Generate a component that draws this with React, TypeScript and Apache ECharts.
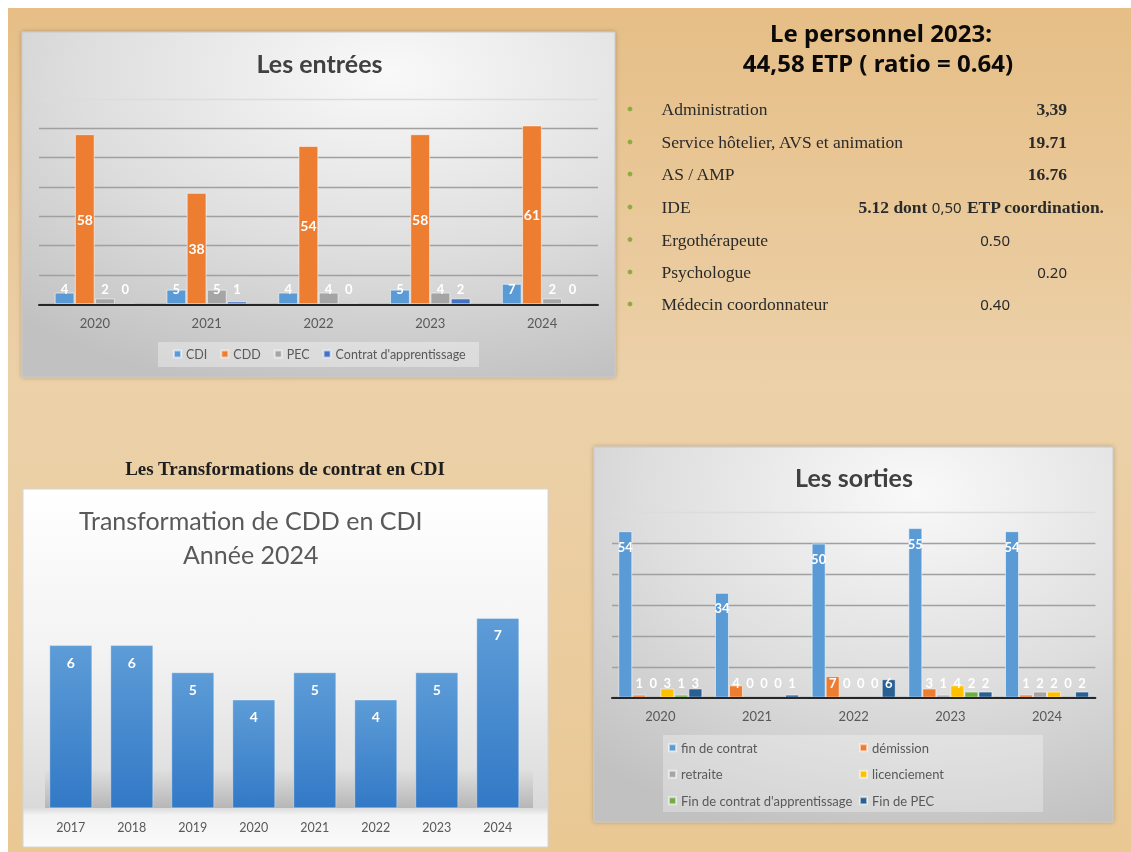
import React, { useEffect, useRef } from "react";
import * as echarts from "echarts";

// ---------- DATA ----------
const ENTREES_YEARS = ["2020", "2021", "2022", "2023", "2024"];
const ENTREES_CDI = [4, 5, 4, 5, 7];
const ENTREES_CDD = [58, 38, 54, 58, 61];
const ENTREES_PEC = [2, 5, 4, 4, 2];
const ENTREES_APPRENT = [0, 1, 0, 2, 0];

const TRANSFO_YEARS = ["2017", "2018", "2019", "2020", "2021", "2022", "2023", "2024"];
const TRANSFO_VALUES = [6, 6, 5, 4, 5, 4, 5, 7];

const SORTIES_YEARS = ["2020", "2021", "2022", "2023", "2024"];
const SORTIES_FIN_CONTRAT = [54, 34, 50, 55, 54];
const SORTIES_DEMISSION = [1, 4, 7, 3, 1];
const SORTIES_RETRAITE = [0, 0, 0, 1, 2];
const SORTIES_LICENCIEMENT = [3, 0, 0, 4, 2];
const SORTIES_FIN_APPRENT = [1, 0, 0, 2, 0];
const SORTIES_FIN_PEC = [3, 1, 6, 2, 2];

const STAFF_LABELS = [
  "Administration",
  "Service hôtelier, AVS et animation",
  "AS / AMP",
  "IDE",
  "Ergothérapeute",
  "Psychologue",
  "Médecin coordonnateur",
];
const STAFF_VALUES = ["3,39", "19.71", "16.76", "5.12 dont 0,50 ETP coordination.", "0.50", "0.20", "0.40"];

// ---------- STYLE / LAYOUT ----------
const SANS = "Lato, 'Noto Sans', sans-serif";
const SERIF = "'Liberation Serif', 'DejaVu Serif', serif";
const GEO = "'Noto Sans', 'DejaVu Sans', sans-serif";

const STAFF_ROW_Y = [109, 142, 174, 207, 239.5, 272, 304];
const STAFF_VALUE_X = [1067, 1067, 1067, 1104, 1010, 1067, 1010];
const STAFF_VALUE_SANS = [false, false, false, false, true, true, true];

function txt(text: string, x: number, y: number, s: any, z = 10) {
  return {
    type: "text",
    x,
    y,
    z,
    silent: true,
    style: {
      text,
      fill: s.fill || "#222",
      fontSize: s.fontSize || 14,
      fontWeight: s.fontWeight || "normal",
      fontFamily: s.fontFamily || SANS,
      textAlign: s.align || "left",
      align: s.align || "left",
      textVerticalAlign: "middle",
      verticalAlign: "middle",
      rich: s.rich,
    },
  };
}

const labelBase = { show: true, color: "#ffffff", fontFamily: SANS, fontWeight: "bold", fontSize: 13 };

function entreesData(arr: number[]) {
  return arr.map((v) => ({
    value: v,
    label: v >= 10 ? { ...labelBase, fontSize: 14, position: "inside" } : { ...labelBase, position: "insideBottom", distance: 9 },
  }));
}
function sortiesData(arr: number[]) {
  return arr.map((v) => ({
    value: v,
    label: v >= 10 ? { ...labelBase, position: "insideTop", distance: 9 } : { ...labelBase, position: "insideBottom", distance: 8.5 },
  }));
}

const barBorder = { borderColor: "rgba(255,255,255,0.55)", borderWidth: 1 };

function panelGradient() {
  return new echarts.graphic.RadialGradient(0.62, 0.12, 0.95, [
    { offset: 0, color: "#f9f9f9" },
    { offset: 0.55, color: "#dedede" },
    { offset: 1, color: "#c1c1c1" },
  ]);
}

export default function App() {
  const ref = useRef<HTMLDivElement>(null);

  useEffect(() => {
    if (!ref.current) return;
    const chart = echarts.init(ref.current, null, { renderer: "svg" });

    const graphics: any[] = [
      { type: "rect", z: -100, silent: true, shape: { x: 0, y: 0, width: 1131, height: 852 }, style: { fill: "#ffffff" } },
      {
        type: "rect",
        z: -99,
        silent: true,
        shape: { x: 8, y: 8, width: 1123, height: 844 },
        style: {
          fill: new echarts.graphic.LinearGradient(0, 0, 0, 1, [
            { offset: 0, color: "#e6be86" },
            { offset: 0.45, color: "#ecd1a9" },
            { offset: 1, color: "#e9c894" },
          ]),
        },
      },
      // panels
      {
        type: "rect",
        z: -90,
        silent: true,
        shape: { x: 22, y: 32, width: 593, height: 345 },
        style: { fill: panelGradient(), stroke: "#c8c8c8", lineWidth: 1, shadowBlur: 4, shadowColor: "rgba(0,0,0,0.25)" },
      },
      {
        type: "rect",
        z: -90,
        silent: true,
        shape: { x: 594, y: 447, width: 519, height: 375 },
        style: { fill: panelGradient(), stroke: "#c8c8c8", lineWidth: 1, shadowBlur: 4, shadowColor: "rgba(0,0,0,0.25)" },
      },
      {
        type: "rect",
        z: -90,
        silent: true,
        shape: { x: 23, y: 489, width: 525, height: 358 },
        style: {
          fill: new echarts.graphic.LinearGradient(0, 0, 0, 1, [
            { offset: 0, color: "#ffffff" },
            { offset: 0.45, color: "#f3f3f3" },
            { offset: 0.78, color: "#e1e1e1" },
            { offset: 0.89, color: "#d9d9d9" },
            { offset: 0.91, color: "#f3f3f3" },
            { offset: 1, color: "#fbfbfb" },
          ]),
          stroke: "#d4d4d4",
          lineWidth: 1,
        },
      },
      // legend boxes
      {
        type: "rect",
        z: -80,
        silent: true,
        shape: { x: 158, y: 342, width: 321, height: 25 },
        style: { fill: "rgba(255,255,255,0.35)" },
      },
      {
        type: "rect",
        z: -80,
        silent: true,
        shape: { x: 663, y: 735, width: 380, height: 77 },
        style: { fill: "rgba(255,255,255,0.3)" },
      },
      // bar base shadow band (transformation chart)
      {
        type: "rect",
        z: -85,
        silent: true,
        shape: { x: 45, y: 768, width: 488, height: 40 },
        style: {
          fill: new echarts.graphic.LinearGradient(0, 0, 0, 1, [
            { offset: 0, color: "rgba(0,0,0,0)" },
            { offset: 1, color: "rgba(0,0,0,0.16)" },
          ]),
        },
      },
      // titles
      txt("Les entrées", 319.5, 63, { fontSize: 25, fontWeight: "bold", fill: "#404040", align: "center" }),
      txt("Les sorties", 854, 477, { fontSize: 25, fontWeight: "bold", fill: "#404040", align: "center" }),
      txt("Transformation de CDD en CDI", 250.7, 520, { fontSize: 25, fill: "#595959", align: "center" }),
      txt("Année 2024", 250.7, 554, { fontSize: 25, fill: "#595959", align: "center" }),
      txt("Les Transformations de contrat en CDI", 285, 468, {
        fontSize: 19,
        fontWeight: "bold",
        fontFamily: SERIF,
        fill: "#1e1e1e",
        align: "center",
      }),
      txt("Le personnel 2023:", 881, 32, { fontSize: 24, fontWeight: "bold", fontFamily: GEO, fill: "#0a0a0a", align: "center" }),
      txt("44,58 ETP ( ratio = 0.64)", 878, 62, { fontSize: 24, fontWeight: "bold", fontFamily: GEO, fill: "#0a0a0a", align: "center" }),
    ];

    STAFF_LABELS.forEach((lab, i) => {
      const y = STAFF_ROW_Y[i];
      graphics.push({
        type: "circle",
        z: 10,
        silent: true,
        shape: { cx: 630, cy: y, r: 2.4 },
        style: { fill: "#8fab3e" },
      });
      graphics.push(txt(lab, 661.5, y, { fontSize: 17.5, fontFamily: SERIF, fill: "#2a2a2a" }));
      const val = STAFF_VALUES[i];
      if (i === 3) {
        const parts = val.split("0,50");
        graphics.push(
          txt(`{a|${parts[0]}}{b|0,50}{a|${parts[1]}}`, STAFF_VALUE_X[i], y, {
            align: "right",
            fontSize: 17.5,
            fontFamily: SERIF,
            fill: "#2a2a2a",
            rich: {
              a: { fontSize: 17.5, fontFamily: SERIF, fontWeight: "bold", fill: "#2a2a2a", color: "#2a2a2a" },
              b: { fontSize: 15, fontFamily: GEO, fontWeight: "normal", fill: "#2a2a2a", color: "#2a2a2a" },
            },
          })
        );
      } else if (STAFF_VALUE_SANS[i]) {
        graphics.push(txt(val, STAFF_VALUE_X[i], y, { align: "right", fontSize: 15, fontFamily: GEO, fill: "#2a2a2a" }));
      } else {
        graphics.push(
          txt(val, STAFF_VALUE_X[i], y, { align: "right", fontSize: 17.5, fontWeight: "bold", fontFamily: SERIF, fill: "#2a2a2a" })
        );
      }
    });

    const catAxisLabel = { color: "#595959", fontSize: 13, fontFamily: SANS, margin: 12 };
    const legendText = { color: "#595959", fontSize: 13, fontFamily: SANS, lineHeight: 14 };

    const option: any = {
      animation: false,
      graphic: { elements: graphics },
      grid: [
        { left: 39, top: 99, width: 559, height: 205.3 },
        { left: 40.3, top: 590.7, width: 488, height: 217.6 },
        { left: 612, top: 512.7, width: 483.4, height: 185 },
      ],
      xAxis: [
        {
          gridIndex: 0,
          type: "category",
          data: ENTREES_YEARS,
          axisLine: { lineStyle: { color: "#262626", width: 2 } },
          axisTick: { show: false },
          axisLabel: catAxisLabel,
          z: 5,
        },
        {
          gridIndex: 1,
          type: "category",
          data: TRANSFO_YEARS,
          axisLine: { show: false },
          axisTick: { show: false },
          axisLabel: { ...catAxisLabel, fontSize: 12.5, margin: 13 },
        },
        {
          gridIndex: 2,
          type: "category",
          data: SORTIES_YEARS,
          axisLine: { lineStyle: { color: "#262626", width: 2 } },
          axisTick: { show: false },
          axisLabel: { ...catAxisLabel, margin: 12 },
          z: 5,
        },
      ],
      yAxis: [
        {
          gridIndex: 0,
          type: "value",
          min: 0,
          max: 70,
          interval: 10,
          axisLabel: { show: false },
          axisLine: { show: false },
          axisTick: { show: false },
          splitLine: {
            lineStyle: {
              color: ["#a0a0a0", "#a0a0a0", "#a0a0a0", "#a0a0a0", "#a0a0a0", "#a0a0a0", "#a0a0a0", "#dcdcdc"],
              width: 1.3,
            },
          },
        },
        { gridIndex: 1, type: "value", min: 0, max: 8, show: false },
        {
          gridIndex: 2,
          type: "value",
          min: 0,
          max: 60,
          interval: 10,
          axisLabel: { show: false },
          axisLine: { show: false },
          axisTick: { show: false },
          splitLine: {
            lineStyle: {
              color: ["#a0a0a0", "#a0a0a0", "#a0a0a0", "#a0a0a0", "#a0a0a0", "#a0a0a0", "#dcdcdc"],
              width: 1.3,
            },
          },
        },
      ],
      legend: [
        {
          data: ["CDI", "CDD", "PEC", "Contrat d'apprentissage"],
          left: 173,
          top: 347,
          padding: 0,
          icon: "rect",
          itemWidth: 7,
          itemHeight: 7,
          itemGap: 13,
          textStyle: { ...legendText, fontSize: 12.5 },
          selectedMode: false,
        },
        {
          data: ["fin de contrat", "retraite", "Fin de contrat d'apprentissage"],
          orient: "vertical",
          left: 668,
          top: 740.7,
          padding: 0,
          icon: "rect",
          itemWidth: 7,
          itemHeight: 7,
          itemGap: 12.5,
          textStyle: legendText,
          selectedMode: false,
        },
        {
          data: ["démission", "licenciement", "Fin de PEC"],
          orient: "vertical",
          left: 859,
          top: 740.7,
          padding: 0,
          icon: "rect",
          itemWidth: 7,
          itemHeight: 7,
          itemGap: 12.5,
          textStyle: legendText,
          selectedMode: false,
        },
      ],
      series: [
        // Les entrées
        {
          name: "CDI",
          type: "bar",
          xAxisIndex: 0,
          yAxisIndex: 0,
          data: entreesData(ENTREES_CDI),
          itemStyle: { color: "#5b9bd5", ...barBorder },
          barCategoryGap: "28%",
          barGap: "2%",
        },
        { name: "CDD", type: "bar", xAxisIndex: 0, yAxisIndex: 0, data: entreesData(ENTREES_CDD), itemStyle: { color: "#ed7d31", ...barBorder } },
        { name: "PEC", type: "bar", xAxisIndex: 0, yAxisIndex: 0, data: entreesData(ENTREES_PEC), itemStyle: { color: "#a5a5a5", ...barBorder } },
        {
          name: "Contrat d'apprentissage",
          type: "bar",
          xAxisIndex: 0,
          yAxisIndex: 0,
          data: entreesData(ENTREES_APPRENT),
          itemStyle: { color: "#4472c4", ...barBorder },
        },
        // Transformation CDD -> CDI
        {
          name: "Transformation de CDD en CDI",
          type: "bar",
          xAxisIndex: 1,
          yAxisIndex: 1,
          data: TRANSFO_VALUES,
          barCategoryGap: "29.5%",
          itemStyle: {
            color: new echarts.graphic.LinearGradient(0, 0, 0, 1, [
              { offset: 0, color: "#5d9cd7" },
              { offset: 1, color: "#3279c6" },
            ]),
            borderColor: "rgba(255,255,255,0.35)",
            borderWidth: 1,
          },
          label: { ...labelBase, fontSize: 14, position: "insideTop", distance: 10 },
        },
        // Les sorties
        {
          name: "fin de contrat",
          type: "bar",
          xAxisIndex: 2,
          yAxisIndex: 2,
          data: sortiesData(SORTIES_FIN_CONTRAT),
          itemStyle: { color: "#5b9bd5", ...barBorder },
          barCategoryGap: "13%",
          barGap: "0%",
        },
        { name: "démission", type: "bar", xAxisIndex: 2, yAxisIndex: 2, data: sortiesData(SORTIES_DEMISSION), itemStyle: { color: "#ed7d31", ...barBorder } },
        { name: "retraite", type: "bar", xAxisIndex: 2, yAxisIndex: 2, data: sortiesData(SORTIES_RETRAITE), itemStyle: { color: "#a5a5a5", ...barBorder } },
        {
          name: "licenciement",
          type: "bar",
          xAxisIndex: 2,
          yAxisIndex: 2,
          data: sortiesData(SORTIES_LICENCIEMENT),
          itemStyle: { color: "#ffc000", ...barBorder },
        },
        {
          name: "Fin de contrat d'apprentissage",
          type: "bar",
          xAxisIndex: 2,
          yAxisIndex: 2,
          data: sortiesData(SORTIES_FIN_APPRENT),
          itemStyle: { color: "#70ad47", ...barBorder },
        },
        { name: "Fin de PEC", type: "bar", xAxisIndex: 2, yAxisIndex: 2, data: sortiesData(SORTIES_FIN_PEC), itemStyle: { color: "#2a5f91", ...barBorder } },
      ],
    };

    chart.setOption(option);
    return () => chart.dispose();
  }, []);

  return <div ref={ref} style={{ position: "fixed", left: 0, top: 0, width: 1131, height: 852 }} />;
}
